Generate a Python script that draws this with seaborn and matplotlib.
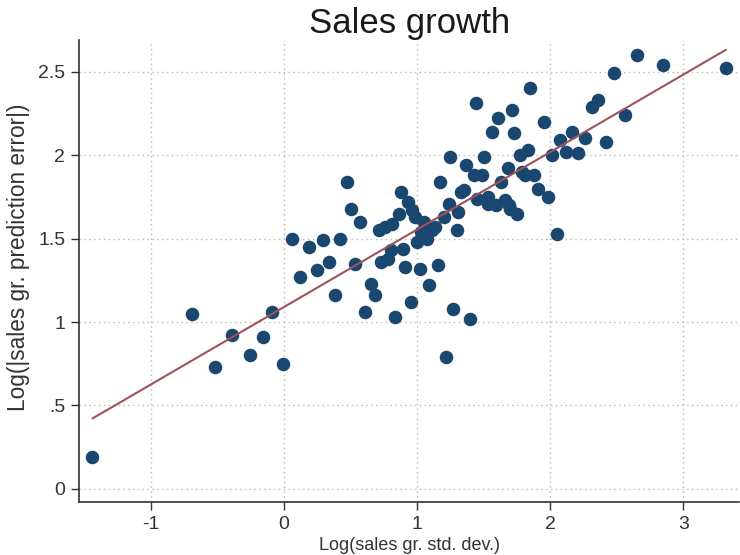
import matplotlib
matplotlib.use("Agg")
import matplotlib.pyplot as plt
import numpy as np
import pandas as pd
import seaborn as sns
from matplotlib.ticker import FuncFormatter

# values
sales_sd = [
    -1.44, -0.69, -0.52, -0.39, -0.26, -0.16, -0.09, -0.01, 0.06, 0.12,
    0.19, 0.25, 0.29, 0.34, 0.38, 0.42, 0.47, 0.50, 0.53, 0.57,
    0.61, 0.65, 0.68, 0.71, 0.76, 0.81, 0.73, 0.78, 0.80, 0.83,
    0.86, 0.88, 0.89, 0.91, 0.93, 0.96, 0.98, 0.95, 1.00, 1.02,
    1.03, 1.05, 1.07, 1.09, 1.11, 1.13, 1.16, 1.17, 1.20, 1.22,
    1.24, 1.25, 1.27, 1.30, 1.31, 1.33, 1.35, 1.37, 1.40, 1.43,
    1.44, 1.45, 1.49, 1.50, 1.53, 1.53, 1.56, 1.59, 1.61, 1.63,
    1.66, 1.68, 1.69, 1.70, 1.71, 1.73, 1.75, 1.77, 1.79, 1.81,
    1.83, 1.85, 1.88, 1.91, 1.95, 1.98, 2.01, 2.05, 2.07, 2.12,
    2.16, 2.21, 2.26, 2.31, 2.36, 2.42, 2.48, 2.56, 2.65, 2.85,
    3.32,
]
pred_error = [
    0.19, 1.05, 0.73, 0.92, 0.80, 0.91, 1.06, 0.75, 1.50, 1.27,
    1.45, 1.31, 1.49, 1.36, 1.16, 1.50, 1.84, 1.68, 1.35, 1.60,
    1.06, 1.23, 1.16, 1.55, 1.57, 1.59, 1.36, 1.38, 1.43, 1.03,
    1.65, 1.78, 1.44, 1.33, 1.72, 1.67, 1.63, 1.12, 1.48, 1.32,
    1.54, 1.60, 1.50, 1.22, 1.55, 1.57, 1.34, 1.84, 1.63, 0.79,
    1.71, 1.99, 1.08, 1.55, 1.66, 1.78, 1.79, 1.94, 1.02, 1.88,
    2.31, 1.74, 1.88, 1.99, 1.75, 1.71, 2.14, 1.70, 2.22, 1.84,
    1.73, 1.92, 1.70, 1.68, 2.27, 2.13, 1.65, 2.00, 1.90, 1.88,
    2.03, 2.40, 1.88, 1.80, 2.20, 1.75, 2.00, 1.53, 2.09, 2.02,
    2.14, 2.01, 2.10, 2.29, 2.33, 2.08, 2.49, 2.24, 2.60, 2.54,
    2.52,
]
x_ticks = [-1, 0, 1, 2, 3]
y_ticks = [0, 0.5, 1, 1.5, 2, 2.5]

df = pd.DataFrame({"sd": sales_sd, "err": pred_error})

sns.set_theme(style="ticks")
plt.rcParams["font.family"] = ["Liberation Sans", "DejaVu Sans"]
plt.rcParams["axes.unicode_minus"] = False

fig, ax = plt.subplots(figsize=(7.4, 5.55), dpi=100)
fig.subplots_adjust(left=0.107, right=0.999, bottom=0.095, top=0.928)

sns.regplot(data=df, x="sd", y="err", ax=ax, ci=None, truncate=True,
            scatter_kws={"s": 95, "color": "#1a476f", "alpha": 1, "linewidths": 0, "zorder": 3},
            line_kws={"color": "#a0525a", "lw": 1.5, "zorder": 4})

ax.set_xlim(-1.54, 3.42)
ax.set_ylim(-0.08, 2.69)
ax.set_xticks(x_ticks)
ax.set_yticks(y_ticks)
ax.yaxis.set_major_formatter(FuncFormatter(lambda v, p: f"{v:g}".replace("0.", ".") if v != 0 else "0"))
ax.grid(True, linestyle=(0, (1, 2.5)), color="#b8b8b8", lw=1)
ax.tick_params(length=6, width=1, color="#333333", labelsize=14, labelcolor="#333333", pad=4)
for s in ("top", "right"):
    ax.spines[s].set_visible(False)
for s in ("left", "bottom"):
    ax.spines[s].set_color("#333333")
    ax.spines[s].set_linewidth(1.2)

ax.set_xlabel("Log(sales gr. std. dev.)", fontsize=13, color="#333333", labelpad=3)
ax.set_ylabel("Log(|sales gr. prediction error|)", fontsize=16.3, color="#333333")
ax.yaxis.set_label_coords(-0.074, 0.53)
ax.set_title("Sales growth", fontsize=25, color="#1a1a1a", pad=3)

fig.savefig("out.png", dpi=100)
